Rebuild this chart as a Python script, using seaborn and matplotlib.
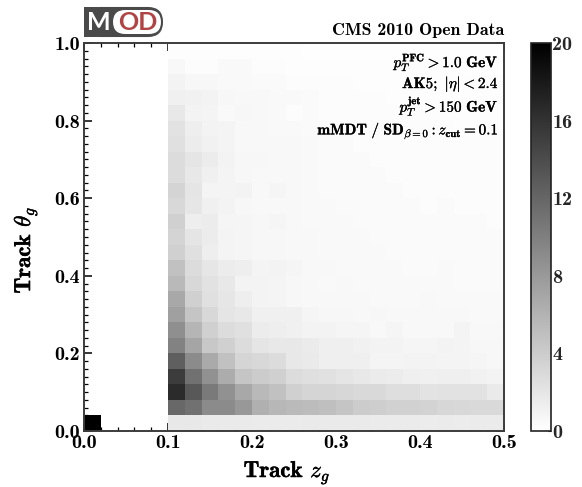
import numpy as np
import matplotlib
matplotlib.use("Agg")
import matplotlib.pyplot as plt
import seaborn as sns
from matplotlib.patches import FancyBboxPatch
from matplotlib.ticker import FixedLocator
import matplotlib.patheffects as pe

sns.set_theme(style="white")
plt.rcParams.update({
    "font.family": ["cmb10", "DejaVu Serif"],
    "mathtext.fontset": "cm",
    "axes.unicode_minus": False,
})

# mean density per cell, bottom row first; x from 0.10 in steps of 0.02
row_00 = [1.8,1.8,1.7,1.7,1.7,1.6,1.6,1.6, 1.7,1.7,1.7,1.7,1.6,1.6,1.6,1.5,1.6,1.5,1.6,1.6]
row_01 = [11.8,11.1,9.1,9.1,8.05,6.2,5.7,5.4, 5.3,5.0,4.6,4.0,3.9,3.6,3.6,3.5,3.2,3.1,3.0,3.0]
row_02 = [16.6,13.1,10.4,8.6,6.8,5.5,4.9,3.7, 3.3,3.3,3.2,3.0,3.0,2.6,2.6,2.2,2.3,2.3,2.3,1.7]
row_03 = [15.3,11.1,8.6,6.5,4.6,4.0,3.7,2.75, 2.5,2.4,2.1,1.8,1.6,1.5,1.3,1.2,1.3,1.3,1.1,1.0]
row_04 = [12.5,9.1,6.7,4.9,3.3,3.05,2.75,1.8, 1.7,1.3,1.3,1.3,0.9,0.9,0.95,0.95,0.9,0.9,0.8,0.7]
row_05 = [9.8,7.1,4.3,3.7,2.75,2.1,1.8,1.8, 1.6,1.3,1.3,1.1,0.95,0.95,0.85,0.8,0.95,0.9,0.7,0.7]
row_06 = [8.8,5.85,3.7,2.75,2.45,1.5,1.33,1.2, 1.0,1.0,0.8,0.8,0.6,0.8,0.6,0.6,0.6,0.9,0.6,0.6]
row_07 = [7.45,4.6,3.05,2.1,1.8,1.2,1.2,1.2, 0.8,0.7,0.7,0.6,0.7,0.6,0.6,0.6,0.6,0.6,0.5,0.5]
row_08 = [6.8,3.7,2.45,1.96,1.33,1.0,0.86,0.7, 0.6,0.6,0.6,0.6,0.5,0.5,0.5,0.6,0.5,0.5,0.5,0.5]
row_09 = [5.5,3.05,2.3,1.8,1.0,0.94,0.86,0.7, 0.6,0.5,0.6,0.5,0.5,0.5,0.5,0.5,0.5,0.4,0.4,0.4]
row_10 = [4.9,2.75,1.96,1.5,1.33,0.86,0.94,0.8, 0.6,0.6,0.5,0.5,0.5,0.5,0.4,0.4,0.5,0.4,0.4,0.4]
row_11 = [3.7,2.45,1.33,0.86,0.8,0.7,0.7,0.6, 0.6,0.5,0.5,0.5,0.5,0.4,0.4,0.4,0.4,0.4,0.4,0.4]
row_12 = [3.4,2.1,1.5,0.86,0.8,0.7,0.7,0.6, 0.6,0.5,0.5,0.5,0.4,0.4,0.4,0.4,0.4,0.4,0.4,0.4]
row_13 = [3.7,1.33,1.5,0.8,0.8,0.7,0.8,0.6, 0.5,0.5,0.5,0.4,0.4,0.4,0.4,0.4,0.4,0.4,0.4,0.3]
row_14 = [3.05,1.96,1.2,1.0,0.7,0.6,0.55,0.55, 0.5,0.5,0.4,0.4,0.4,0.4,0.4,0.3,0.4,0.3,0.3,0.3]
row_15 = [3.4,2.1,0.86,0.86,0.94,0.6,0.8,0.55, 0.5,0.4,0.4,0.4,0.4,0.4,0.3,0.3,0.3,0.3,0.3,0.3]
row_16 = [2.75,1.8,1.2,0.86,0.7,0.6,0.55,0.55, 0.5,0.4,0.4,0.4,0.4,0.3,0.3,0.3,0.3,0.3,0.3,0.3]
row_17 = [2.75,2.1,1.5,1.0,0.7,0.7,0.6,0.55, 0.5,0.4,0.4,0.4,0.3,0.3,0.3,0.3,0.3,0.3,0.3,0.3]
row_18 = [2.45,1.5,1.1,0.86,0.6,0.6,0.55,0.55, 0.5,0.4,0.4,0.3,0.3,0.3,0.3,0.3,0.3,0.3,0.3,0.3]
row_19 = [2.3,1.33,1.0,0.86,0.55,0.55,0.5,0.5, 0.4,0.4,0.3,0.3,0.3,0.3,0.3,0.3,0.3,0.2,0.2,0.2]
row_20 = [1.8,1.0,0.86,0.5,0.7,0.6,0.5,0.3, 0.4,0.3,0.3,0.3,0.3,0.3,0.3,0.2,0.2,0.2,0.2,0.2]
row_21 = [1.2,1.1,1.0,0.7,0.55,0.55,0.5,0.5, 0.4,0.3,0.3,0.3,0.3,0.2,0.2,0.2,0.2,0.2,0.2,0.2]
row_22 = [1.0,0.7,0.7,0.5,0.5,0.4,0.4,0.3, 0.3,0.3,0.3,0.2,0.2,0.2,0.2,0.2,0.2,0.2,0.2,0.2]
row_23 = [0.55,0.3,0.3,0.5,0.5,0.3,0.3,0.2, 0.2,0.2,0.2,0.2,0.2,0.2,0.2,0.2,0.2,0.1,0.1,0.1]
row_24 = [0.2,0.2,0.2,0.2,0.2,0.2,0.2,0.2, 0.1,0.1,0.1,0.1,0.1,0.1,0.1,0.1,0.1,0.1,0.1,0.1]
corner_value = 25.0

x_ticks = [0.0, 0.1, 0.2, 0.3, 0.4, 0.5]
y_ticks = [0.0, 0.2, 0.4, 0.6, 0.8, 1.0]
cbar_ticks = [0, 4, 8, 12, 16, 20]
annotations = [r"$p_T^{\mathbf{PFC}} > \mathbf{1.0\ GeV}$",
               r"$\mathbf{AK5;}\ |\eta| < \mathbf{2.4}$",
               r"$p_T^{\mathbf{jet}} > \mathbf{150\ GeV}$",
               r"$\mathbf{mMDT\ /\ SD}_{\beta=0}: z_{\mathbf{cut}} = \mathbf{0.1}$"]

rows = [row_00, row_01, row_02, row_03, row_04, row_05, row_06, row_07, row_08, row_09,
        row_10, row_11, row_12, row_13, row_14, row_15, row_16, row_17, row_18, row_19,
        row_20, row_21, row_22, row_23, row_24]
grid = np.full((25, 25), np.nan)
for i, r in enumerate(rows):
    grid[i, 5:] = r
grid[0, 0] = corner_value

W, H = 582, 487
fig = plt.figure(figsize=(W / 100, H / 100), dpi=100, facecolor="white")
ax = fig.add_axes([84 / W, 1 - 431 / H, 420 / W, 388 / H])
cax = fig.add_axes([531 / W, 1 - 431 / H, 20 / W, 388 / H])

sns.heatmap(grid, ax=ax, cbar_ax=cax, cmap="gray_r", vmin=0, vmax=20,
            linewidths=0, square=False, xticklabels=False, yticklabels=False)
ax.set_xlim(0, 25)
ax.set_ylim(0, 25)

for s in ax.spines.values():
    s.set_visible(True)
    s.set_color("#3c3c3c")
    s.set_linewidth(1.4)

ax.set_xticks([v * 50 for v in x_ticks])
ax.set_xticklabels([f"{v:.1f}" for v in x_ticks], fontsize=14.5)
ax.set_yticks([v * 25 for v in y_ticks])
ax.set_yticklabels([f"{v:.1f}" for v in y_ticks], fontsize=14.5, rotation=0)
ax.xaxis.set_minor_locator(FixedLocator(np.arange(0, 25.01, 1)))
ax.yaxis.set_minor_locator(FixedLocator(np.arange(0, 25.01, 0.5)))
ax.tick_params(which="major", direction="in", length=6, width=1.1, top=True, right=True,
               bottom=True, left=True, color="black", labelcolor="black", pad=2)
ax.tick_params(which="minor", direction="in", length=3.2, width=0.9, top=True, right=True,
               bottom=True, left=True, color="black")
ax.tick_params(axis="y", pad=3)

stroke = [pe.withStroke(linewidth=0.3, foreground="black")]
fig.text(287 / W, 1 - 472 / H, r"Track $z_g$", fontsize=16.5, ha="center", va="center",
         color="black", path_effects=stroke)
fig.text(25 / W, 1 - 250 / H, r"Track $\theta_g$", fontsize=16.5, ha="center", va="center",
         rotation=90, color="black", path_effects=stroke)

cb = ax.collections[0].colorbar
cb.set_ticks(cbar_ticks)
cb.set_ticklabels([str(t) for t in cbar_ticks], fontsize=14.5)
cb.ax.tick_params(length=2.5, width=0.8, direction="in", pad=1, color="#222222", right=True)
cb.outline.set_visible(True)
cb.outline.set_edgecolor("#222222")
cb.outline.set_linewidth(1.2)

ax.text(1.0, 1.012, "CMS 2010 Open Data", transform=ax.transAxes, ha="right", va="bottom",
        fontsize=12.8, color="black")

ys = [0.950, 0.893, 0.838, 0.773]
for txt, y in zip(annotations, ys):
    t = ax.text(0.988, y, txt, transform=ax.transAxes, ha="right", va="center",
                fontsize=11, color="black")
    t.set_path_effects([pe.withStroke(linewidth=0.2, foreground="black")])

# logo
fx, fy = 1 / W, 1 / H
fig.add_artist(FancyBboxPatch((86 * fx, 1 - 36 * fy), 76 * fx, 28 * fy,
                              boxstyle="round,pad=0,rounding_size=0.024", mutation_aspect=W / H,
                              transform=fig.transFigure, fc="#4a4a4a", ec="#4a4a4a", lw=1.5))
fig.add_artist(plt.Rectangle((84 * fx, 1 - 37 * fy), 14 * fx, 30 * fy, transform=fig.transFigure,
                             fc="#4a4a4a", ec="none"))
fig.add_artist(FancyBboxPatch((113 * fx, 1 - 34 * fy), 48 * fx, 24 * fy,
                              boxstyle="round,pad=0,rounding_size=0.021", mutation_aspect=W / H,
                              transform=fig.transFigure, fc="white", ec="none"))
fig.text(99 * fx, 1 - 23 * fy, "M", color="white", fontsize=18, family="Lato", weight="bold",
         ha="center", va="center")
fig.text(137.5 * fx, 1 - 23 * fy, "OD", color="#b04444", fontsize=18, family="Lato", weight="bold",
         ha="center", va="center")

fig.savefig("out.png", dpi=100)
